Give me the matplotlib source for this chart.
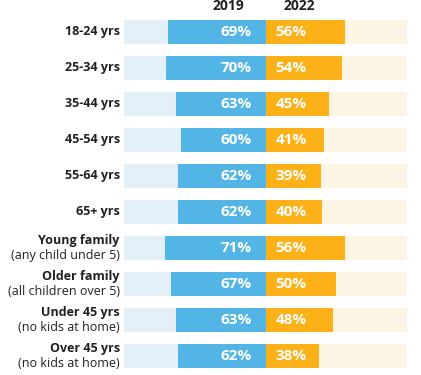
import matplotlib.pyplot as plt

plt.rcParams['font.family'] = ['Open Sans', 'DejaVu Sans']

# data
groups = ["18-24 yrs", "25-34 yrs", "35-44 yrs", "45-54 yrs", "55-64 yrs", "65+ yrs",
          "Young family", "Older family", "Under 45 yrs", "Over 45 yrs"]
subtitles = ["", "", "", "", "", "",
             "(any child under 5)", "(all children over 5)",
             "(no kids at home)", "(no kids at home)"]
vals_2019 = [69, 70, 63, 60, 62, 62, 71, 67, 63, 62]
vals_2022 = [56, 54, 45, 41, 39, 40, 56, 50, 48, 38]
years = ["2019", "2022"]

blue = "#52b5e6"
orange = "#fdb119"
light_blue = "#e3f0fa"
light_orange = "#fdf5e3"

W, H = 421, 375
fig = plt.figure(figsize=(W / 100, H / 100), dpi=100)
ax = fig.add_axes([124 / W, 1 - 374 / H, 283 / W, 360 / H])

y = list(range(len(groups)))
h = 0.667
ax.barh(y, [-100] * len(y), height=h, color=light_blue)
ax.barh(y, [100] * len(y), height=h, color=light_orange)
ax.barh(y, [-v for v in vals_2019], height=h, color=blue)
ax.barh(y, vals_2022, height=h, color=orange)

for i in y:
    ax.text(-10, i, f"{vals_2019[i]}%", ha="right", va="center", color="white",
            fontsize=11, fontweight="bold")
    ax.text(7, i, f"{vals_2022[i]}%", ha="left", va="center", color="white",
            fontsize=11, fontweight="bold")
    if subtitles[i]:
        ax.text(-103, i - 0.2, groups[i], ha="right", va="center", color="#231f20",
                fontsize=9, fontweight="bold")
        ax.text(-103, i + 0.22, subtitles[i], ha="right", va="center", color="#231f20",
                fontsize=9)
    else:
        ax.text(-103, i, groups[i], ha="right", va="center", color="#231f20",
                fontsize=9, fontweight="bold")

ax.text(-26, -0.72, years[0], ha="center", va="center", color="#231f20",
        fontsize=10, fontweight="bold")
ax.text(24, -0.72, years[1], ha="center", va="center", color="#231f20",
        fontsize=10, fontweight="bold")

ax.set_xlim(-100, 100)
ax.set_ylim(9.5, -0.5)
ax.axis("off")

plt.savefig("out.png", dpi=100)
